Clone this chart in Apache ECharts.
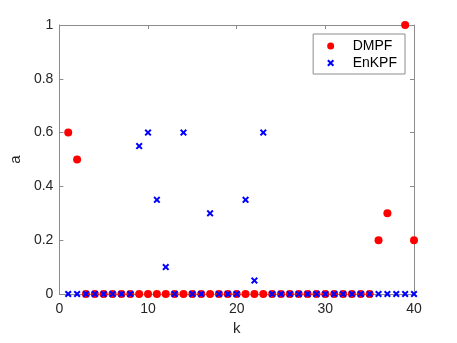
<!DOCTYPE html>
<html>
<head>
<meta charset="utf-8">
<script src="https://cdn.jsdelivr.net/npm/echarts@6/dist/echarts.min.js"></script>
<style>html,body{margin:0;padding:0;background:#fff;}#c{width:457px;height:343px;}</style>
</head>
<body>
<div id="c"></div>
<script>
const kValues = [1,2,3,4,5,6,7,8,9,10,11,12,13,14,15,16,17,18,19,20,21,22,23,24,25,26,27,28,29,30,31,32,33,34,35,36,37,38,39,40];
const dmpf = [0.6,0.5,0,0,0,0,0,0,0,0,0,0,0,0,0,0,0,0,0,0,0,0,0,0,0,0,0,0,0,0,0,0,0,0,0,0.2,0.3,null,1,0.2];
const enkpf = [0,0,0,0,0,0,0,0,0.55,0.6,0.35,0.1,0,0.6,0,0,0.3,0,0,0,0.35,0.05,0.6,0,0,0,0,0,0,0,0,0,0,0,0,0,0,0,0,0];
const xTicks = [0,10,20,30,40];
const yTicks = [0,0.2,0.4,0.6,0.8,1];

const xPath = 'path://M0,2 L2,0 L5,3 L8,0 L10,2 L7,5 L10,8 L8,10 L5,7 L2,10 L0,8 L3,5 Z';
const toPairs = (vals) => kValues.map((k,i) => vals[i] === null ? null : [k, vals[i]]).filter(p => p);

const axisCol = '#8c8c8c';
const labelCol = '#262626';
const font = 'Liberation Sans, Arial, Helvetica, sans-serif';

const chart = echarts.init(document.getElementById('c'), null, {renderer: 'canvas'});
const baseX = {
  type: 'value', min: 0, max: 40, interval: 10,
  axisLine: {show: true, onZero: false, lineStyle: {color: axisCol, width: 1}},
  axisTick: {show: true, inside: true, length: 4, lineStyle: {color: axisCol}},
  splitLine: {show: false}
};
const baseY = {
  type: 'value', min: 0, max: 1, interval: 0.2,
  axisLine: {show: true, onZero: false, lineStyle: {color: axisCol, width: 1}},
  axisTick: {show: true, inside: true, length: 4, lineStyle: {color: axisCol}},
  splitLine: {show: false}
};
chart.setOption({
  animation: false,
  grid: {left: 58, right: 43, top: 25, bottom: 49},
  xAxis: [
    Object.assign({}, baseX, {
      position: 'bottom', name: 'k', nameLocation: 'middle', nameGap: 26,
      nameTextStyle: {color: labelCol, fontSize: 15, fontFamily: font},
      axisLabel: {color: labelCol, fontSize: 14, fontFamily: font, margin: 8,
        formatter: v => xTicks.includes(v) ? String(v) : ''}
    }),
    Object.assign({}, baseX, {position: 'top', axisLabel: {show: false}})
  ],
  yAxis: [
    Object.assign({}, baseY, {
      position: 'left', name: 'a', nameLocation: 'middle', nameGap: 30, nameRotate: 90,
      nameTextStyle: {color: labelCol, fontSize: 15, fontFamily: font},
      axisLabel: {color: labelCol, fontSize: 14, fontFamily: font, margin: 6,
        formatter: v => { const t = yTicks.find(y => Math.abs(y - v) < 1e-9); return t === undefined ? '' : String(t); }}
    }),
    Object.assign({}, baseY, {position: 'right', axisLabel: {show: false}})
  ],
  legend: {
    show: true, right: 52, top: 34, orient: 'vertical',
    backgroundColor: '#fff', borderColor: '#8c8c8c', borderWidth: 1, borderRadius: 0,
    padding: [5, 8, 4, 14], itemGap: 3, itemWidth: 22, itemHeight: 7,
    textStyle: {color: '#000', fontSize: 14, fontFamily: font, padding: [0,0,0,6]},
    data: [
      {name: 'DMPF', icon: 'circle', itemStyle: {color: '#ff0000', opacity: 1}},
      {name: 'EnKPF', icon: xPath, itemStyle: {color: '#0000ff', opacity: 1}}
    ]
  },
  series: [
    {
      name: 'DMPF', type: 'scatter', xAxisIndex: 0, yAxisIndex: 0,
      data: toPairs(dmpf), symbol: 'circle', symbolSize: 8,
      itemStyle: {color: '#ff0000', opacity: 1}, z: 2
    },
    {
      name: 'EnKPF', type: 'scatter', xAxisIndex: 0, yAxisIndex: 0,
      data: toPairs(enkpf), symbol: xPath, symbolSize: 7,
      itemStyle: {color: '#0000ff', opacity: 1}, z: 3
    }
  ]
});
</script>
</body>
</html>
